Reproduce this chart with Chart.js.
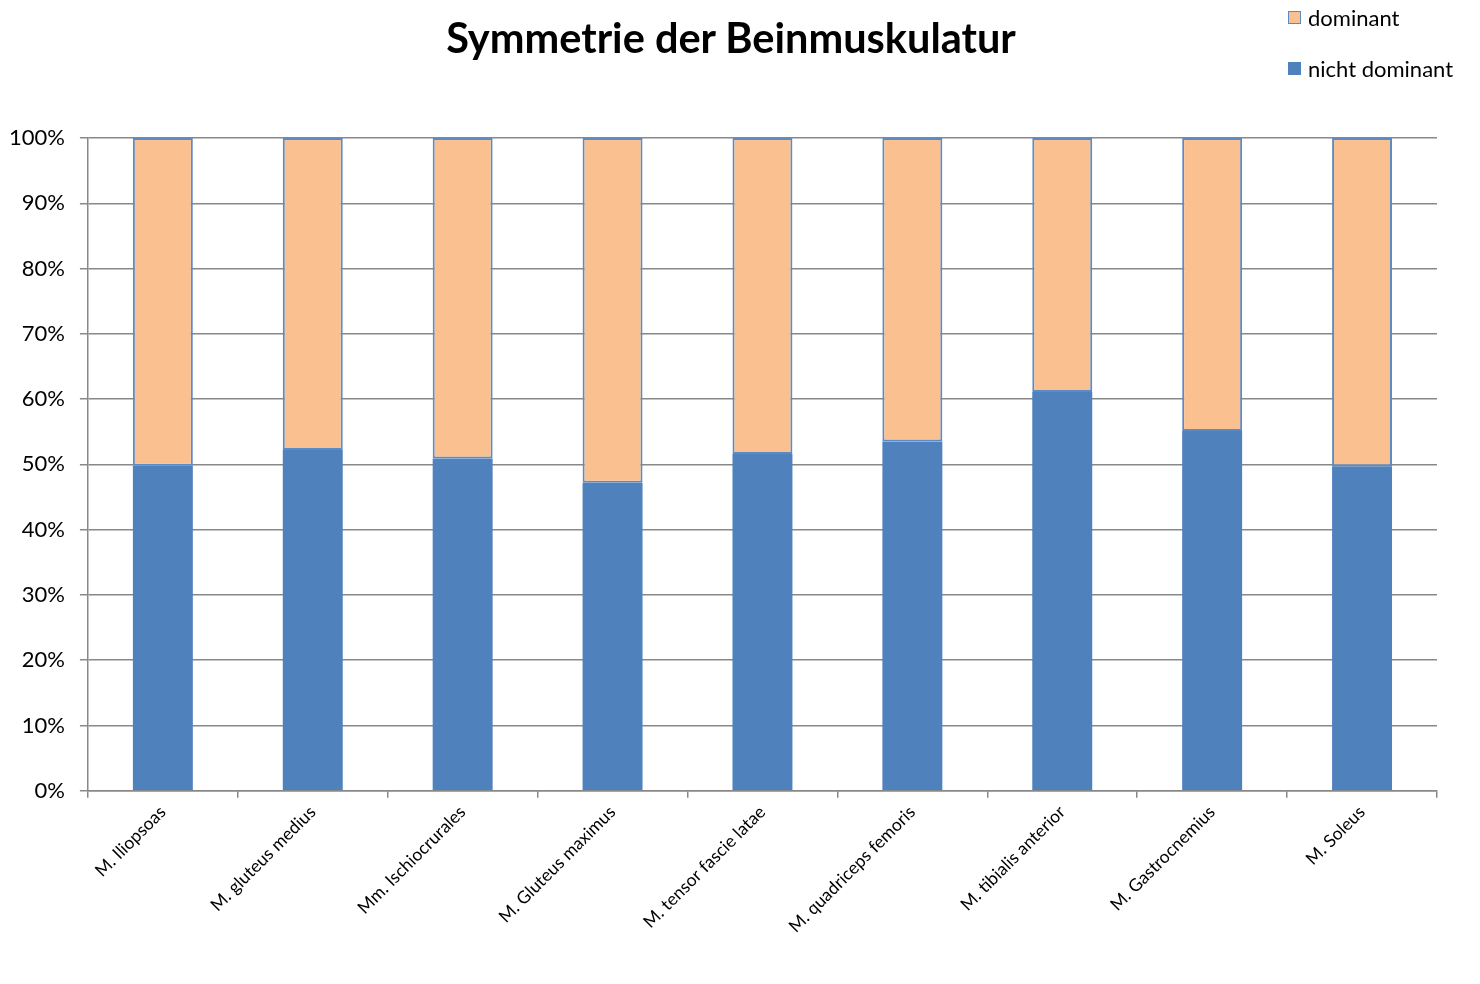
<!DOCTYPE html>
<html>
<head>
<meta charset="utf-8">
<script src="https://cdn.jsdelivr.net/npm/chart.js@4"></script>
<style>
  html, body { margin: 0; padding: 0; background: #fff; }
  #wrap { position: relative; width: 1480px; height: 984px; }
  #title { position: absolute; left: 0; top: 12px; width: 1462px; line-height: 50px; text-align: center;
           font-family: Lato, "Open Sans", sans-serif; font-size: 41.5px; font-weight: bold; color: #000; }
  #legend { position: absolute; left: 1288px; top: 4px; font-family: Lato, "Open Sans", sans-serif; font-size: 22px; color: #000; }
  #legend div { display: flex; align-items: center; height: 26px; margin-bottom: 25px; }
  #legend span.box { display: inline-block; width: 13px; height: 13px; margin-right: 7px; box-sizing: border-box; }
</style>
</head>
<body>
<div id="wrap">
  <canvas id="chart" width="1480" height="984"></canvas>
  <div id="title">Symmetrie der Beinmuskulatur</div>
  <div id="legend">
    <div><span class="box" style="background:#FAC090;border:1.5px solid #5B8AC6"></span>dominant</div>
    <div><span class="box" style="background:#4F81BD"></span>nicht dominant</div>
  </div>
</div>
<script>
const muscles = [
  'M. Iliopsoas', 'M. gluteus medius', 'Mm. Ischiocrurales', 'M. Gluteus maximus',
  'M. tensor fascie latae', 'M. quadriceps femoris', 'M. tibialis anterior',
  'M. Gastrocnemius', 'M. Soleus'
];
const nichtDominant = [49.8, 52.2, 50.9, 47.2, 51.6, 53.5, 61.1, 55.1, 49.7];
const dominant = [50.2, 47.8, 49.1, 52.8, 48.4, 46.5, 38.9, 44.9, 50.3];
const yTicks = [0, 10, 20, 30, 40, 50, 60, 70, 80, 90, 100];

const ctx = document.getElementById('chart').getContext('2d');
new Chart(ctx, {
  type: 'bar',
  data: {
    labels: muscles,
    datasets: [
      {
        label: 'nicht dominant',
        data: nichtDominant,
        backgroundColor: '#4F81BD',
        borderColor: '#4F81BD',
        borderWidth: 0,
        barPercentage: 0.4,
        categoryPercentage: 1
      },
      {
        label: 'dominant',
        data: dominant,
        backgroundColor: '#FAC090',
        borderColor: '#5B8AC6',
        borderWidth: 2,
        borderSkipped: false,
        barPercentage: 0.4,
        categoryPercentage: 1
      }
    ]
  },
  options: {
    responsive: false,
    animation: false,
    layout: { padding: { top: 138, right: 43, left: -6, bottom: 43 } },
    plugins: {
      legend: { display: false },
      tooltip: { enabled: false },
      title: { display: false }
    },
    scales: {
      x: {
        stacked: true,
        afterFit: s => { s.paddingLeft = 0; s.paddingRight = 0; },
        grid: { offset: true, drawOnChartArea: false, drawTicks: true, tickLength: 7, color: '#888', lineWidth: 1.5 },
        border: { color: '#888', width: 1.5 },
        ticks: {
          color: '#000',
          maxRotation: 45,
          minRotation: 45,
          font: { family: 'Lato, "Open Sans", sans-serif', size: 17.5 },
          padding: 4
        }
      },
      y: {
        stacked: true,
        min: 0,
        max: 100,
        afterBuildTicks: axis => { axis.ticks = yTicks.map(v => ({ value: v })); },
        grid: { color: '#888', lineWidth: 1.5, tickLength: 8 },
        border: { color: '#888', width: 1.5 },
        ticks: {
          color: '#000',
          font: { family: 'Lato, "Open Sans", sans-serif', size: 22 },
          padding: 15,
          callback: v => v + '%'
        }
      }
    }
  }
});
</script>
</body>
</html>
